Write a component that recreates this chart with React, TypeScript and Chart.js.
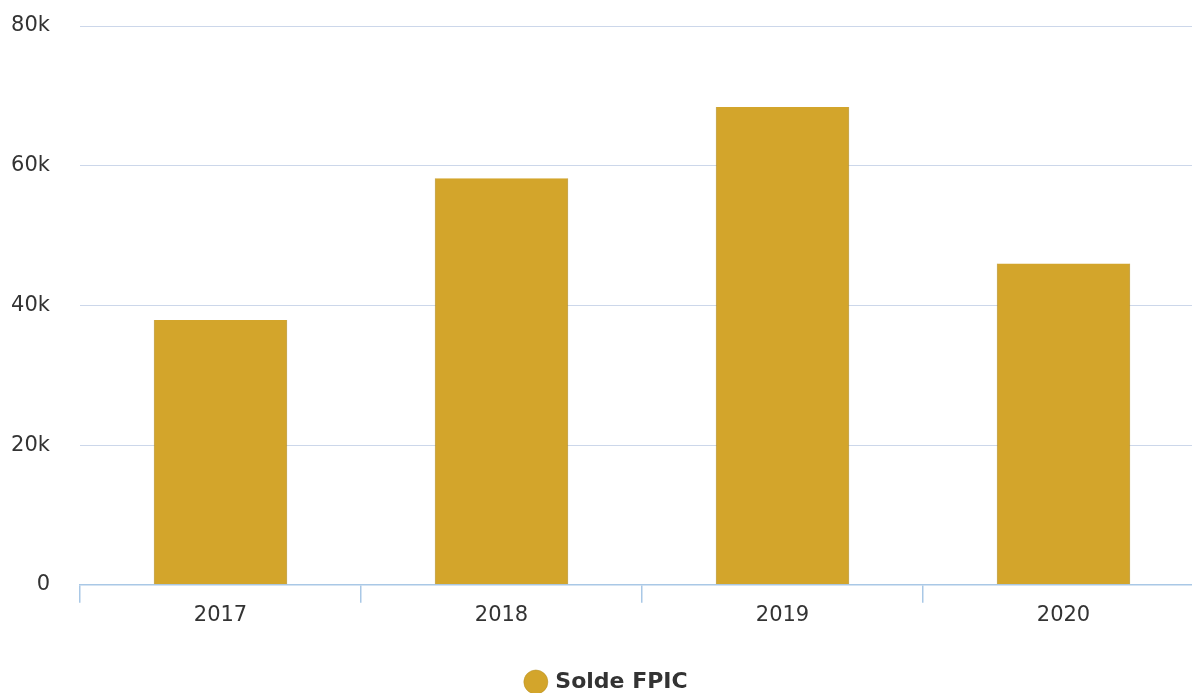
import React, { useEffect, useRef } from "react";
import { Chart, registerables } from "chart.js";

Chart.register(...registerables);

// Annual FPIC balance
const years: string[] = ["2017", "2018", "2019", "2020"];
const soldeFpic: number[] = [37900, 58200, 68400, 46000];
const yTicks: number[] = [0, 20000, 40000, 60000, 80000];
const seriesLabel = "Solde FPIC";

const BAR = "#D3A52B";
const BAR_EDGE = "#B58E22";
const FONT = "'DejaVu Sans', 'Open Sans', sans-serif";

export default function App() {
  const canvasRef = useRef<HTMLCanvasElement | null>(null);

  useEffect(() => {
    if (!canvasRef.current) return;
    const chart = new Chart(canvasRef.current, {
      type: "bar",
      data: {
        labels: years,
        datasets: [
          {
            label: seriesLabel,
            data: soldeFpic,
            backgroundColor: BAR,
            borderColor: BAR_EDGE,
            borderWidth: { left: 1, right: 1, top: 0, bottom: 0 },
            barPercentage: 0.475,
            categoryPercentage: 1,
          },
        ],
      },
      options: {
        animation: false,
        responsive: true,
        maintainAspectRatio: false,
        layout: { padding: { top: 26, right: 11, bottom: -10, left: 11 } },
        plugins: {
          tooltip: { enabled: false },
          legend: {
            position: "bottom",
            labels: {
              usePointStyle: true,
              pointStyle: "circle",
              boxWidth: 17,
              boxHeight: 17,
              color: "#333333",
              padding: 3,
              font: { family: FONT, size: 22, weight: "bold" },
            },
          },
        },
        scales: {
          x: {
            offset: true,
            afterFit: (scale: any) => {
              scale.height += 40;
            },
            border: { display: true, color: "#A9C8E6", width: 1.5 },
            grid: {
              display: true,
              offset: true,
              drawOnChartArea: false,
              drawTicks: true,
              tickLength: 18,
              color: "#A9C8E6",
              lineWidth: 1.5,
            },
            ticks: {
              color: "#333333",
              padding: 0,
              font: { family: FONT, size: 21 },
            },
          },
          y: {
            min: 0,
            max: 80000,
            afterFit: (scale: any) => {
              scale.width = 69;
              scale.paddingTop = 0;
              scale.paddingBottom = 0;
            },
            afterBuildTicks: (scale: any) => {
              scale.ticks = yTicks.map((v) => ({ value: v }));
            },
            border: { display: false },
            grid: {
              drawTicks: false,
              color: "#CCD7EA",
              lineWidth: 1,
            },
            ticks: {
              color: "#333333",
              padding: 30,
              font: { family: FONT, size: 21 },
              callback: (v: any) => (Number(v) === 0 ? "0" : Number(v) / 1000 + "k"),
            },
          },
        },
      },
    });
    return () => chart.destroy();
  }, []);

  return (
    <div
      style={{
        position: "fixed",
        left: 0,
        top: 0,
        width: 1192,
        height: 693,
        overflow: "hidden",
        background: "#ffffff",
      }}
    >
      <div style={{ position: "relative", width: 1215, height: 693 }}>
        <canvas ref={canvasRef} />
      </div>
    </div>
  );
}
